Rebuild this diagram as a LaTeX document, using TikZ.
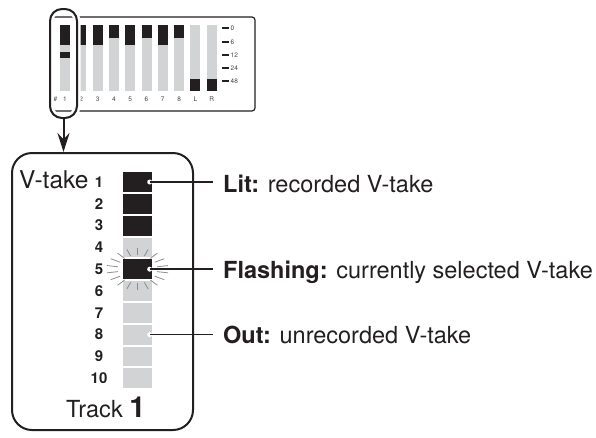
\documentclass[tikz,border=0pt]{standalone}
\usepackage{fontspec}
\setmainfont{TeX Gyre Heros}
\usetikzlibrary{arrows.meta,positioning,calc}

\definecolor{ink}{HTML}{231F20}
\definecolor{ledoff}{HTML}{D1D3D4}
\definecolor{glow}{HTML}{8C8C8C}

\tikzset{
  segon/.style={fill=ink, minimum width=29pt, minimum height=19.8pt, inner sep=0},
  segoff/.style={fill=ledoff, minimum width=29pt, minimum height=19.8pt, inner sep=0},
  takenum/.style={font=\fontsize{15}{17}\selectfont\bfseries, text=ink, inner sep=0},
  callout/.style={font=\fontsize{23.5}{27}\selectfont, text=ink, anchor=base west, inner sep=0},
  leader/.style={draw=ink, line width=1.5pt},
  meterlbl/.style={font=\fontsize{6.5}{7}\selectfont, text=ink!85, inner sep=0},
}

\begin{document}
\begin{tikzpicture}[x=1pt, y=-1pt]
  % Sizes
  \pgfmathsetmacro{\barpitch}{16.3}
  \pgfmathsetmacro{\segpitch}{21.8}
  \useasboundingbox (0,0) rectangle (596,437);

  % meter panel
  \draw[ink, line width=1.2pt, rounded corners=3pt] (50,17) rectangle (255,111);
  \foreach \i/\lab/\ya/\yb in {1/1/25/45, 2/2/25/45, 3/3/25/45, 4/4/25/38, 5/5/25/45,
                               6/6/25/38, 7/7/25/45, 8/8/25/38, 9/L/79/91, 10/R/79/91} {
    \pgfmathsetmacro{\cx}{65+(\i-1)*\barpitch}
    \fill[ledoff] (\cx-5,25) rectangle (\cx+5,91);
    \fill[ink] (\cx-5,\ya) rectangle (\cx+5,\yb);
    \node[meterlbl] (bar\i) at (\cx,99) {\lab};
  }
  \fill[ink] (60,52) rectangle (70,58);
  \node[meterlbl] (barmark) at (55.5,99) {\#};
  \foreach \v/\yy in {0/28, 6/42, 12/55, 24/68, 48/81} {
    \draw[ink, line width=1.4pt] (222,\yy) -- (229,\yy);
    \node[meterlbl, anchor=west] (db\v) at (230.5,\yy) {\v};
  }

  % zoom ring
  \node[draw=ink, line width=2pt, rounded corners=12pt, minimum width=27pt,
        minimum height=109pt, inner sep=0,
        preaction={draw=white, line width=7pt}] (ring) at (63.5,63.5) {};

  % track panel
  \node[draw=ink, line width=2pt, rounded corners=20pt, minimum width=181pt,
        minimum height=277pt, inner sep=0] (trackbox) at (102.5,291.5) {};
  \draw[ink, line width=2pt, -{Stealth[length=19pt, width=12pt]}]
    (ring.south) -- (ring.south |- trackbox.north);

  % segments and numbers
  \foreach \k/\st in {1/segon, 2/segon, 3/segon, 4/segoff, 5/segon,
                      6/segoff, 7/segoff, 8/segoff, 9/segoff, 10/segoff} {
    \pgfmathsetmacro{\yy}{182+(\k-1)*\segpitch}
    \node[\st] (seg\k) at (137.5,\yy) {};
    \node[takenum] (num\k) at (99,\yy) {\k};
  }

  % flashing rays
  \foreach \a in {10,30,...,350}
    \draw[glow, line width=0.8pt] ([shift={(\a:20 and 14)}]seg5.center)
      -- ([shift={(\a:31 and 21)}]seg5.center);

  % labels
  \node[callout, font=\fontsize{24.5}{28}\selectfont] (vtake) at (19,188) {V-take};
  \node[callout] (track) at (66,417) {Track \textbf{\fontsize{29}{30}\selectfont 1}};
  \node[callout] (litlbl) at (223,192) {\textbf{Lit:} recorded V-take};
  \node[callout] (flashlbl) at (223,278) {\textbf{Flashing:} currently selected V-take};
  \node[callout] (outlbl) at (223,343) {\textbf{Out:} unrecorded V-take};

  % leaders
  \foreach \k/\lbl in {1/litlbl, 5/flashlbl, 8/outlbl} {
    \coordinate (pin\k) at ([xshift=-2.5pt]seg\k.east);
    \fill[white] (pin\k) circle (2.5pt);
    \draw[leader] (pin\k) -- ($(pin\k -| \lbl.west)+(-10,0)$);
  }
\end{tikzpicture}
\end{document}
